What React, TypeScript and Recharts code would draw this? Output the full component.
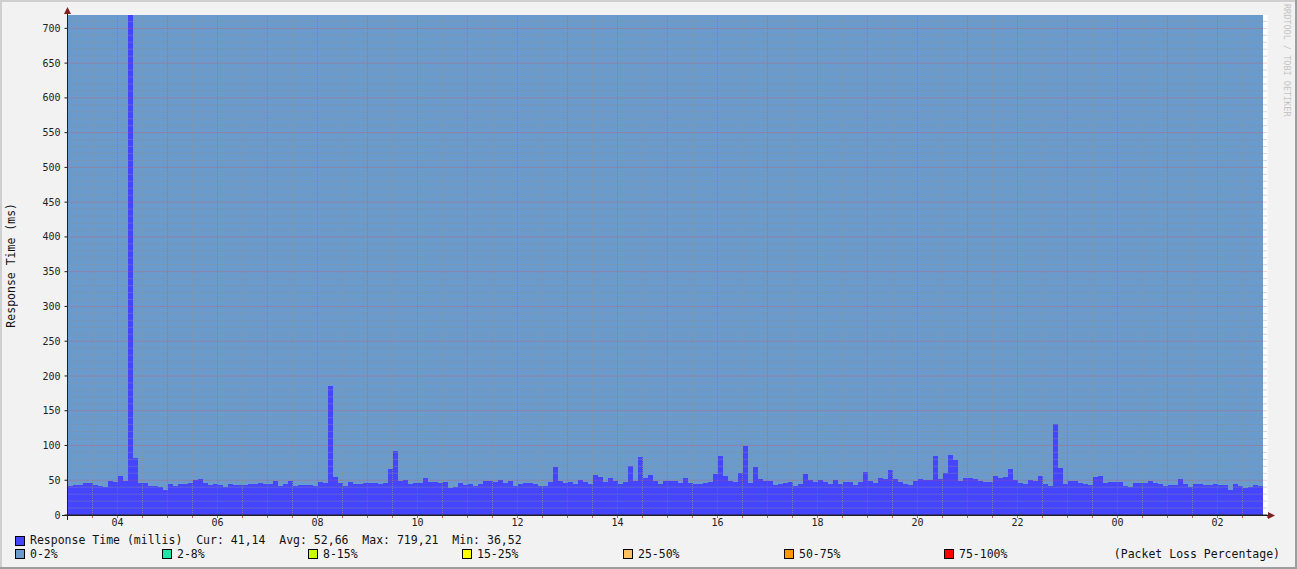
import React from "react";
import {
  Bar,
  BarChart,
  CartesianGrid,
  ReferenceLine,
  XAxis,
  YAxis,
} from "recharts";

// response time per 6-minute slot, starting 03:00 (ms)
const responseTime = [
  42, 43, 43, 46, 46, 43, 42, 40, 49, 47,
  56, 49, 719.21, 82, 46, 46, 42, 42, 40, 36.5,
  44.5, 42, 44.5, 44.5, 46, 50, 52, 46, 43, 44.5,
  43, 40, 44.5, 43, 43, 43, 44.5, 44.5, 46, 44.5,
  44.5, 49, 42, 44.5, 49, 42, 43, 43, 43, 42,
  47, 46, 185.4, 54.6, 46, 42, 47, 44.5, 44.5, 46,
  46, 46, 44.5, 46, 66, 92, 49, 50, 44.5, 46,
  46, 53, 47, 47, 46, 47, 39, 40, 46, 43,
  44.5, 42, 44.5, 49, 49, 47, 50, 46, 49, 42,
  44.5, 46, 46, 44.5, 42, 42, 47, 69, 49, 46,
  47, 44.5, 50, 47, 44.5, 57.5, 54.6, 47, 53, 49,
  44.5, 47, 70.4, 49, 83.3, 53, 57.5, 49, 44.5, 49,
  49, 49, 46, 53, 46, 44.5, 44.5, 46, 47, 59,
  85, 56, 49, 47, 60, 99, 46, 69, 52, 49,
  49, 43, 44.5, 46, 47, 42, 44.5, 59, 50, 47,
  50, 47, 44.5, 50, 44.5, 47, 47, 43, 47, 62,
  49, 46, 53, 52, 64.7, 52, 47, 44.5, 43, 49,
  52, 50, 50, 85, 52, 60, 86, 79, 49, 53,
  53, 52, 49, 47.4, 47.4, 56, 53, 54.6, 66, 50,
  46, 44.5, 50, 49, 56, 44.5, 41.7, 131, 67.6, 44.5,
  49, 49, 46, 44.5, 43, 54.6, 56, 46, 47.4, 47.4,
  47.4, 41.7, 40, 46, 46, 46, 49, 46, 44.5, 41.7,
  43, 43, 52, 44.5, 40, 44.5, 44.5, 43, 43, 44.5,
  43, 43, 36.52, 44.5, 41.7, 39, 40, 43, 41.14,
];

const slotHours = 0.1; // 6 minutes
const yMax = 719.21;
const startHour = 3;

const yTicks = [0, 50, 100, 150, 200, 250, 300, 350, 400, 450, 500, 550, 600, 650, 700];
const minorY = Array.from({ length: 71 }, (_, i) => (i + 1) * 10).filter((v) => v % 50 !== 0);
const majorY = yTicks.filter((v) => v > 0);
const majorHours = Array.from({ length: 23 }, (_, i) => i + 1);
const minorHours = Array.from({ length: 24 }, (_, i) => i + 0.5);
const timeTicks = Array.from({ length: 49 }, (_, i) => i / 2);

const lossLegend = [
  { label: "0-2%", color: "#6b9bcd", x: 15 },
  { label: "2-8%", color: "#1de6a6", x: 162 },
  { label: "8-15%", color: "#c8ff00", x: 308 },
  { label: "15-25%", color: "#ffff00", x: 462 },
  { label: "25-50%", color: "#ffc060", x: 623 },
  { label: "50-75%", color: "#ff9900", x: 784 },
  { label: "75-100%", color: "#ff0000", x: 944 },
];

const data = responseTime.map((v, i) => ({
  t: (i + 0.5) * slotHours,
  rt: v,
  loss: yMax - v,
}));

const mono = "'DejaVu Sans Mono', monospace";
const minorColor = "rgba(143,143,143,0.75)";
const majorColor = "rgba(222,79,79,0.6)";

const hourLabel = (v: number) => {
  if (!Number.isInteger(v) || v % 2 !== 1) return "";
  return String((startHour + v) % 24).padStart(2, "0");
};

function Swatch({ x, y, color }: { x: number; y: number; color: string }) {
  return (
    <div
      style={{
        position: "absolute",
        left: x,
        top: y,
        width: 8,
        height: 8,
        background: color,
        border: "1px solid #000",
      }}
    />
  );
}

const legendText: React.CSSProperties = {
  position: "absolute",
  fontSize: 11.5,
  lineHeight: "14px",
  color: "#111",
  whiteSpace: "pre",
};

export default function App() {
  return (
    <div
      style={{
        position: "absolute",
        left: 0,
        top: 0,
        width: 1297,
        height: 569,
        background: "#f2f2f2",
        fontFamily: mono,
      }}
    >
      <BarChart
        width={1297}
        height={569}
        data={data}
        margin={{ top: 15, right: 29.5, left: 0.5, bottom: 34 }}
        barCategoryGap={0}
        barGap={0}
      >
        <CartesianGrid fill="#ffffff" horizontal={false} vertical={false} />
        <XAxis
          dataKey="t"
          type="number"
          domain={[0, 24]}
          allowDataOverflow
          ticks={timeTicks}
          interval={0}
          tickFormatter={hourLabel}
          height={20}
          tickSize={3}
          tickMargin={1}
          tickLine={{ stroke: "#c86060" }}
          axisLine={{ stroke: "#1f1f1f" }}
          tick={{ fontFamily: mono, fontSize: 10, fill: "#222" }}
        />
        <YAxis
          type="number"
          domain={[0, yMax]}
          allowDataOverflow
          ticks={yTicks}
          interval={0}
          width={67}
          tickSize={3}
          tickMargin={4}
          tickLine={{ stroke: "#1f1f1f" }}
          axisLine={{ stroke: "#1f1f1f" }}
          tick={{ fontFamily: mono, fontSize: 10, fill: "#222" }}
        />
        <Bar dataKey="rt" stackId="a" fill="#4545ff" shapeRendering="crispEdges" isAnimationActive={false} />
        <Bar dataKey="loss" stackId="a" fill="#6b9bcd" shapeRendering="crispEdges" isAnimationActive={false} />
        {minorY.map((v) => (
          <ReferenceLine key={`my${v}`} y={v} stroke={minorColor} strokeDasharray="1 1" />
        ))}
        {minorHours.map((h) => (
          <ReferenceLine key={`mx${h}`} x={h} stroke={minorColor} strokeDasharray="1 1" />
        ))}
        {majorY.map((v) => (
          <ReferenceLine key={`My${v}`} y={v} stroke={majorColor} strokeDasharray="1 1" />
        ))}
        {majorHours.map((h) => (
          <ReferenceLine key={`Mx${h}`} x={h} stroke={majorColor} strokeDasharray="1 1" />
        ))}
      </BarChart>

      <svg
        width={1297}
        height={569}
        style={{ position: "absolute", left: 0, top: 0, pointerEvents: "none" }}
      >
        <line x1={67.5} y1={10} x2={67.5} y2={520} stroke="#1f1f1f" />
        <line x1={62} y1={515.5} x2={1270} y2={515.5} stroke="#1f1f1f" />
        <polygon points="64,14 71,14 67.5,7" fill="#7f1f1f" />
        <polygon points="1268,512 1268,519 1275,515.5" fill="#7f1f1f" />
        <line x1={0} y1={1} x2={1297} y2={1} stroke="#cfcfcf" strokeWidth={2} />
        <line x1={1} y1={0} x2={1} y2={569} stroke="#cfcfcf" strokeWidth={2} />
        <line x1={0} y1={568} x2={1297} y2={568} stroke="#9e9e9e" strokeWidth={2} />
        <line x1={1296} y1={0} x2={1296} y2={569} stroke="#9e9e9e" strokeWidth={2} />
      </svg>

      <div
        style={{
          ...legendText,
          left: 4,
          top: 203,
          writingMode: "vertical-rl",
          transform: "rotate(180deg)",
        }}
      >
        Response Time (ms)
      </div>

      <div
        style={{
          position: "absolute",
          left: 1282,
          top: 4,
          writingMode: "vertical-rl",
          fontSize: 8.5,
          lineHeight: "10px",
          color: "#c4c4c4",
          whiteSpace: "nowrap",
        }}
      >
        RRDTOOL / TOBI OETIKER
      </div>

      <Swatch x={15} y={536} color="#4545ff" />
      <div style={{ ...legendText, left: 30, top: 533 }}>
        {"Response Time (millis)  Cur: 41,14  Avg: 52,66  Max: 719,21  Min: 36,52"}
      </div>

      {lossLegend.map((l) => (
        <React.Fragment key={l.label}>
          <Swatch x={l.x} y={549} color={l.color} />
          <div style={{ ...legendText, left: l.x + 15, top: 547 }}>{l.label}</div>
        </React.Fragment>
      ))}
      <div style={{ ...legendText, right: 17, top: 547 }}>(Packet Loss Percentage)</div>
    </div>
  );
}
